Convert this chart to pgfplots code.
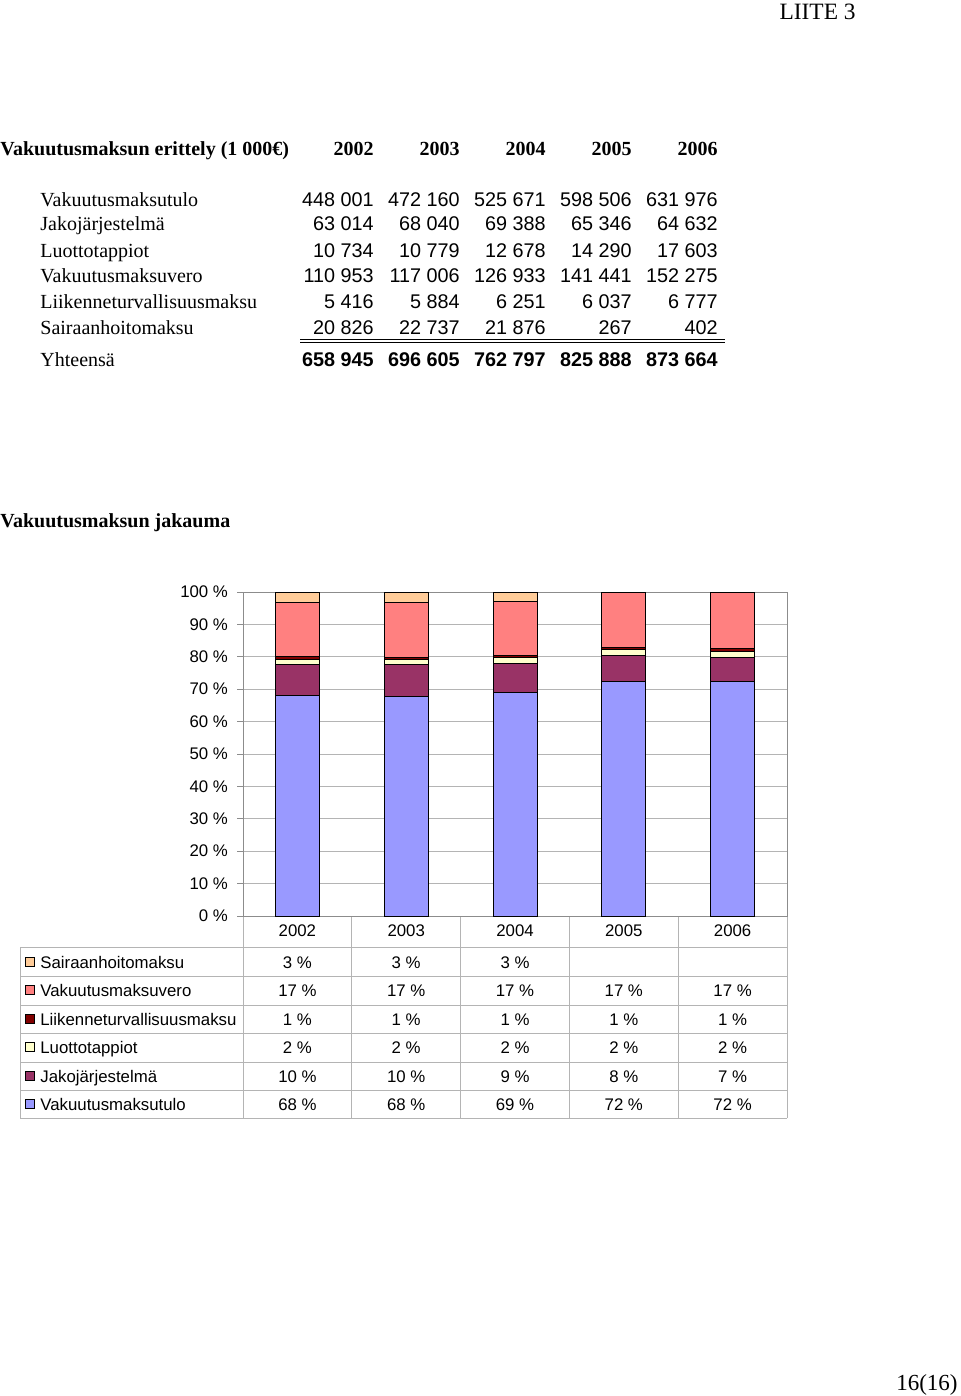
\documentclass[border=0pt]{standalone}
\usepackage{fontspec}
\setmainfont{Liberation Serif}
\newfontfamily\arial{Liberation Sans}
\usepackage{pgfplots}
\pgfplotsset{compat=1.18}
\definecolor{cTulo}{HTML}{9999FF}
\definecolor{cJako}{HTML}{993366}
\definecolor{cLuotto}{HTML}{FFFFCC}
\definecolor{cLiik}{HTML}{800000}
\definecolor{cVero}{HTML}{FF8080}
\definecolor{cSair}{HTML}{FFCC99}
\definecolor{gridc}{HTML}{B4B4B4}
\definecolor{framec}{HTML}{8C8C8C}
\tikzset{
 tl/.style={anchor=base west, inner sep=0pt, font=\fontsize{10}{12}\selectfont},
 tn/.style={anchor=base east, inner sep=0pt, font=\arial\fontsize{9.9}{12}\selectfont},
 tb/.style={anchor=base east, inner sep=0pt, font=\arial\bfseries\fontsize{9.9}{12}\selectfont},
 th/.style={anchor=base east, inner sep=0pt, font=\bfseries\fontsize{10}{12}\selectfont},
 cl/.style={anchor=base west, inner sep=0pt, font=\arial\fontsize{8.4}{10}\selectfont},
 cv/.style={anchor=base, inner sep=0pt, font=\arial\fontsize{8.4}{10}\selectfont},
}
\newcommand\trow[7]{%
 \node[tl] at (40,#1) {#2};
 \node[tn] at (374,#1) {#3};
 \node[tn] at (460,#1) {#4};
 \node[tn] at (546,#1) {#5};
 \node[tn] at (632,#1) {#6};
 \node[tn] at (718,#1) {#7};}
\newcommand\drow[8]{%
 \draw[fill=#2, line width=0.4pt] (25.5,#1-4.5) rectangle (34.5,#1+4.5);
 \node[cl] at (40,#1+6) {#3};
 \node[cv] at (297.4,#1+6) {#4};
 \node[cv] at (406.2,#1+6) {#5};
 \node[cv] at (515.0,#1+6) {#6};
 \node[cv] at (623.8,#1+6) {#7};
 \node[cv] at (732.6,#1+6) {#8};}
\begin{document}
\begin{tikzpicture}
\path[use as bounding box] (0,0) rectangle (480pt,-698pt);
\begin{scope}[x=0.5pt,y=-0.5pt]
 \node[anchor=base east, inner sep=0pt, font=\fontsize{11.7}{14}\selectfont] at (856,20) {LIITE 3};
 % table 1
 \node[anchor=base west, inner sep=0pt, font=\bfseries\fontsize{10}{12}\selectfont] at (0,156) {Vakuutusmaksun erittely (1 000€)};
 \node[th] at (374,156) {2002};
 \node[th] at (460,156) {2003};
 \node[th] at (546,156) {2004};
 \node[th] at (632,156) {2005};
 \node[th] at (718,156) {2006};
 \trow{206}{Vakuutusmaksutulo}{448 001}{472 160}{525 671}{598 506}{631 976}
 \trow{231}{Jakojärjestelmä}{63 014}{68 040}{69 388}{65 346}{64 632}
 \trow{257}{Luottotappiot}{10 734}{10 779}{12 678}{14 290}{17 603}
 \trow{282}{Vakuutusmaksuvero}{110 953}{117 006}{126 933}{141 441}{152 275}
 \trow{308}{Liikenneturvallisuusmaksu}{5 416}{5 884}{6 251}{6 037}{6 777}
 \trow{334}{Sairaanhoitomaksu}{20 826}{22 737}{21 876}{267}{402}
 \draw[line width=0.6pt] (300,339.5) -- (725,339.5);
 \draw[line width=0.6pt] (300,342.5) -- (725,342.5);
 \node[tl] at (40,366) {Yhteensä};
 \node[tb] at (374,366) {658 945};
 \node[tb] at (460,366) {696 605};
 \node[tb] at (546,366) {762 797};
 \node[tb] at (632,366) {825 888};
 \node[tb] at (718,366) {873 664};
 % chart title
 \node[anchor=base west, inner sep=0pt, font=\bfseries\fontsize{10}{12}\selectfont] at (0,527) {Vakuutusmaksun jakauma};
 % data table grid
 \foreach \yy in {947,976,1005,1033,1062,1090,1118} {\draw[gridc, line width=0.5pt] (20,\yy) -- (787,\yy);}
 \draw[gridc, line width=0.5pt] (20,947) -- (20,1118);
 \foreach \xx in {243,351.8,460.6,569.4,678.2,787} {\draw[gridc, line width=0.5pt] (\xx,916) -- (\xx,1118);}
 \node[cv] at (297.4,936) {2002};
 \node[cv] at (406.2,936) {2003};
 \node[cv] at (515.0,936) {2004};
 \node[cv] at (623.8,936) {2005};
 \node[cv] at (732.6,936) {2006};
 \drow{962}{cSair}{Sairaanhoitomaksu}{3 \%}{3 \%}{3 \%}{}{}
 \drow{990}{cVero}{Vakuutusmaksuvero}{17 \%}{17 \%}{17 \%}{17 \%}{17 \%}
 \drow{1019}{cLiik}{Liikenneturvallisuusmaksu}{1 \%}{1 \%}{1 \%}{1 \%}{1 \%}
 \drow{1047}{cLuotto}{Luottotappiot}{2 \%}{2 \%}{2 \%}{2 \%}{2 \%}
 \drow{1076}{cJako}{Jakojärjestelmä}{10 \%}{10 \%}{9 \%}{8 \%}{7 \%}
 \drow{1104}{cTulo}{Vakuutusmaksutulo}{68 \%}{68 \%}{69 \%}{72 \%}{72 \%}
 \node[anchor=base east, inner sep=0pt, font=\fontsize{11.5}{14}\selectfont] at (958,1390) {16(16)};
\end{scope}
\begin{axis}[
 at={(121.5pt,-458pt)}, anchor=south west, scale only axis,
 width=272pt, height=162pt,
 xmin=-0.5, xmax=4.5, ymin=0, ymax=100,
 ybar stacked, bar width=22pt,
 xtick=\empty, ytick={0,10,...,100},
 ymajorgrids, major grid style={draw=gridc, line width=0.5pt},
 axis line style={draw=framec, line width=0.5pt},
 ytick pos=left, tick align=outside, major tick length=3pt,
 tick style={draw=framec, line width=0.5pt},
 /pgf/number format/assume math mode=true,
 yticklabel={\pgfmathprintnumber{\tick}\ \%},
 yticklabel style={font=\arial\fontsize{8.4}{10}\selectfont, xshift=-1pt},
]
\addplot[fill=cTulo, draw=black, line width=0.5pt] coordinates {(0,67.99) (1,67.78) (2,68.91) (3,72.47) (4,72.34)};
\addplot[fill=cJako, draw=black, line width=0.5pt] coordinates {(0,9.56) (1,9.77) (2,9.10) (3,7.91) (4,7.40)};
\addplot[fill=cLuotto, draw=black, line width=0.5pt] coordinates {(0,1.63) (1,1.55) (2,1.66) (3,1.73) (4,2.01)};
\addplot[fill=cLiik, draw=black, line width=0.5pt] coordinates {(0,0.82) (1,0.84) (2,0.82) (3,0.73) (4,0.78)};
\addplot[fill=cVero, draw=black, line width=0.5pt] coordinates {(0,16.84) (1,16.80) (2,16.64) (3,17.13) (4,17.43)};
\addplot[fill=cSair, draw=black, line width=0.5pt] coordinates {(0,3.16) (1,3.26) (2,2.87) (3,0.03) (4,0.05)};
\end{axis}
\end{tikzpicture}
\end{document}
